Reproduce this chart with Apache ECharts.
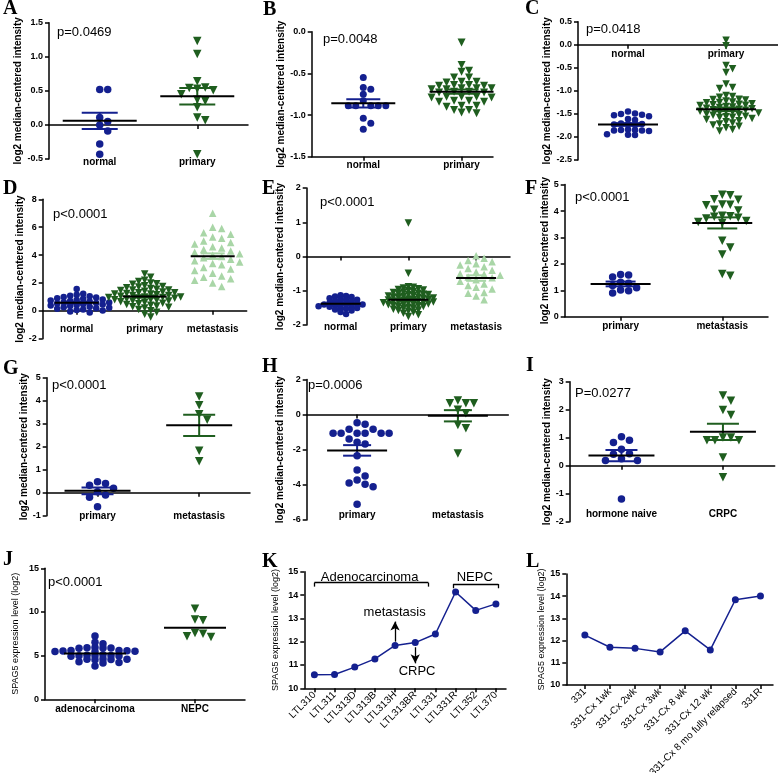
<!DOCTYPE html>
<html lang="en">
<head>
<meta charset="UTF-8">
<title>SPAG5 expression panels</title>
<script src="https://cdn.jsdelivr.net/npm/echarts@6.0.0/dist/echarts.min.js"></script>
<style>
    html, body { margin: 0; padding: 0; background: #fff; }
    #main { width: 778px; height: 773px; }
</style>
</head>
<body>
<div id="main"></div>
<script>
// ---- data ----
var LOG2_NAME = 'log2 median-centered intensity';
var SPAG_NAME = 'SPAG5 expression level (log2)';

// A
var aCats = ['normal', 'primary'];
var aNormal = [0.52, 0.52, 0.11, 0.05, 0.0, -0.09, -0.28, -0.43];
var aPrimary = [1.23, 1.04, 0.64, 0.55, 0.54, 0.53, 0.51, 0.45, 0.37, 0.35, 0.26, 0.11, 0.07, -0.43];
var aMeans = [0.06, 0.42];
var aSems = [0.12, 0.12];

// B
var bCats = ['normal', 'primary'];
var bNormal = [-0.55, -0.67, -0.69, -0.75, -0.83, -0.89, -0.89, -0.89, -0.89, -0.89, -1.04, -1.10, -1.17];
var bPrimary = [-0.13, -0.40, -0.47, -0.48, -0.55, -0.55, -0.60, -0.60, -0.61, -0.64, -0.64, -0.65, -0.65,
    -0.68, -0.68, -0.68, -0.69, -0.69, -0.72, -0.72, -0.73, -0.73, -0.78, -0.78, -0.78, -0.79, -0.79,
    -0.83, -0.83, -0.84, -0.84, -0.89, -0.89, -0.90, -0.94, -0.94, -0.97, -0.98];
var bMeans = [-0.86, -0.72];
var bSems = [0.05, 0.025];

// C
var cCats = ['normal', 'primary'];
var cNormal = [-1.45, -1.49, -1.50, -1.52, -1.53, -1.55, -1.61, -1.63, -1.71, -1.72, -1.72, -1.73, -1.74,
    -1.84, -1.85, -1.85, -1.86, -1.86, -1.87, -1.94, -1.95, -1.96];
var cPrimary = [0.10, -0.02, -0.45, -0.52, -0.60, -0.85, -0.93, -0.95, -1.10, -1.12, -1.14, -1.18, -1.19,
    -1.20, -1.22, -1.24, -1.25, -1.26, -1.28, -1.29, -1.30, -1.31, -1.32, -1.34, -1.35, -1.36, -1.38,
    -1.39, -1.40, -1.41, -1.42, -1.44, -1.45, -1.46, -1.47, -1.48, -1.50, -1.52, -1.53, -1.55, -1.56,
    -1.57, -1.58, -1.60, -1.62, -1.65, -1.67, -1.70, -1.72, -1.74, -1.77, -1.80, -1.84, -1.87];
var cMeans = [-1.73, -1.40];
var cSems = [0.03, 0.04];

// D
var dCats = ['normal', 'primary', 'metastasis'];
var dNormal = [1.56, 1.22, 1.15, 1.08, 1.05, 1.0, 0.95, 0.9, 0.86, 0.82, 0.78, 0.74, 0.7, 0.66, 0.62, 0.6,
    0.56, 0.52, 0.48, 0.45, 0.42, 0.38, 0.34, 0.3, 0.26, 0.22, 0.18, 0.14, 0.1, 0.06, 0.02, -0.04, -0.12];
var dPrimary = [2.65, 2.4, 2.2, 2.1, 2.0, 1.95, 1.9, 1.8, 1.75, 1.7, 1.65, 1.6, 1.55, 1.5, 1.5, 1.45, 1.4,
    1.35, 1.3, 1.3, 1.25, 1.2, 1.2, 1.15, 1.1, 1.1, 1.05, 1.0, 1.0, 0.95, 0.95, 0.9, 0.9, 0.85, 0.8, 0.8,
    0.75, 0.7, 0.7, 0.65, 0.6, 0.55, 0.5, 0.45, 0.4, 0.35, 0.3, 0.25, 0.2, 0.1, 0.0, -0.1, -0.25, -0.45];
var dMetastasis = [7.0, 6.0, 5.9, 5.6, 5.5, 5.3, 5.2, 5.0, 4.9, 4.8, 4.6, 4.5, 4.4, 4.3, 4.2, 4.1, 4.0, 3.9,
    3.8, 3.7, 3.6, 3.5, 3.4, 3.3, 3.1, 3.0, 2.9, 2.7, 2.5, 2.4, 2.3, 2.2, 2.0, 1.75];
var dMeans = [0.58, 1.03, 3.92];
var dSems = [0.07, 0.08, 0.2];

// E
var eCats = ['normal', 'primary', 'metastasis'];
var eNormal = [-1.13, -1.15, -1.17, -1.18, -1.22, -1.25, -1.26, -1.27, -1.3, -1.32, -1.35, -1.37, -1.38,
    -1.39, -1.4, -1.4, -1.42, -1.44, -1.45, -1.47, -1.5, -1.5, -1.52, -1.55, -1.58, -1.62, -1.68];
var ePrimary = [0.98, -0.49, -0.88, -0.9, -0.92, -0.94, -0.96, -0.98, -1.0, -1.02, -1.04, -1.05, -1.07,
    -1.08, -1.1, -1.11, -1.12, -1.14, -1.15, -1.16, -1.18, -1.19, -1.2, -1.21, -1.22, -1.24, -1.25, -1.26,
    -1.27, -1.28, -1.3, -1.31, -1.32, -1.33, -1.34, -1.35, -1.36, -1.38, -1.39, -1.4, -1.41, -1.42, -1.44,
    -1.45, -1.46, -1.48, -1.5, -1.52, -1.54, -1.56, -1.58, -1.6, -1.63, -1.66, -1.7, -1.75];
var eMetastasis = [0.02, -0.05, -0.12, -0.15, -0.21, -0.25, -0.3, -0.35, -0.4, -0.45, -0.5, -0.52, -0.55,
    -0.6, -0.62, -0.68, -0.72, -0.8, -0.85, -0.9, -0.95, -1.05, -1.07, -1.15, -1.26];
var eMeans = [-1.38, -1.26, -0.63];
var eSems = [0.03, 0.03, 0.08];

// F
var fCats = ['primary', 'metastasis'];
var fPrimary = [1.60, 1.58, 1.50, 1.30, 1.27, 1.18, 1.10, 1.01, 0.98, 0.90];
var fMetastasis = [4.62, 4.60, 4.45, 4.43, 4.25, 4.24, 4.22, 4.05, 4.02, 3.82, 3.80, 3.78, 3.75, 3.72,
    3.62, 3.58, 3.55, 2.87, 2.62, 2.35, 1.62, 1.55];
var fMeans = [1.24, 3.55];
var fSems = [0.09, 0.21];

// G
var gCats = ['primary', 'metastasis'];
var gPrimary = [0.48, 0.40, 0.32, 0.19, 0.04, -0.10, -0.20, -0.61];
var gMetastasis = [4.18, 3.80, 3.41, 3.17, 1.82, 1.37];
var gMeans = [0.08, 2.93];
var gSems = [0.15, 0.46];

// H
var hCats = ['primary', 'metastasis'];
var hPrimary = [-0.46, -0.55, -0.84, -0.84, -1.06, -1.06, -1.06, -1.06, -1.06, -1.06, -1.39, -1.58, -1.68,
    -2.34, -3.16, -3.50, -3.73, -3.89, -3.96, -4.11, -5.10];
var hMetastasis = [0.80, 0.65, 0.65, 0.65, 0.27, 0.08, -0.59, -0.78, -2.21];
var hMeans = [-2.04, -0.07];
var hSems = [0.30, 0.32];

// I
var iCats = ['hormone naive', 'CRPC'];
var iNaive = [1.03, 0.91, 0.83, 0.59, 0.43, 0.41, 0.25, 0.19, 0.19, -1.19];
var iCrpc = [2.51, 2.32, 1.99, 1.81, 1.01, 1.01, 0.91, 0.91, 0.91, 0.29, -0.41];
var iMeans = [0.36, 1.21];
var iSems = [0.2, 0.29];

// J
var jCats = ['adenocarcinoma', 'NEPC'];
var jAdeno = [7.25, 6.52, 6.35, 5.92, 5.9, 5.88, 5.86, 5.84, 5.6, 5.58, 5.55, 5.52, 5.5, 5.48, 5.45, 5.1,
    5.05, 5.02, 5.0, 4.98, 4.95, 4.92, 4.62, 4.6, 4.58, 4.55, 4.52, 4.3, 4.22, 4.15, 3.8];
var jNepc = [10.37, 9.15, 9.04, 7.60, 7.52, 7.22, 7.14];
var jMeans = [5.24, 8.2];
var jSems = [0, 0];

// K
var kCats = ['LTL310', 'LTL311', 'LTL313D', 'LTL313B', 'LTL313H', 'LTL313BR', 'LTL331', 'LTL331R', 'LTL352', 'LTL370'];
var kValues = [10.58, 10.59, 10.91, 11.26, 11.84, 11.96, 12.33, 14.13, 13.34, 13.62];

// L
var lCats = ['331', '331-Cx 1wk', '331-Cx 2wk', '331-Cx 3wk', '331-Cx 8 wk', '331-Cx 12 wk', '331-Cx 8 mo fully relapsed', '331R'];
var lValues = [12.25, 11.70, 11.65, 11.49, 12.44, 11.58, 13.84, 14.01];

var pLabels = ['p=0.0469', 'p=0.0048', 'p=0.0418', 'p<0.0001', 'p<0.0001', 'p<0.0001', 'p<0.0001', 'p=0.0006', 'P=0.0277', 'p<0.0001'];
var letters = ['A', 'B', 'C', 'D', 'E', 'F', 'G', 'H', 'I', 'J', 'K', 'L'];

// ---- styling / layout ----
var BLUE = '#14208f', GREEN = '#1f5e1f', LIGHT = '#a9d6a7';
var FONT = "'Liberation Sans', Arial, sans-serif";
var groupColor = [BLUE, GREEN, LIGHT];

// dot plots: grid box, axis ranges, label margin (from grid bottom), name gap, swarm spacing per group
var dotPanels = [
    {cats: aCats, groups: [aNormal, aPrimary], means: aMeans, sems: aSems, left: 49, top: 22.7, width: 199, height: 136.3,
        x: [0.48, 2.52], y: [-0.5, 1.5, 0.5], dec: 1, onZero: true, margin: -1.5, gap: 23, step: [8, 8], thr: [7, 7], size: 7.5, half: [37, 18]},
    {cats: bCats, groups: [bNormal, bPrimary], means: bMeans, sems: bSems, left: 311.7, top: 31.7, width: 181.3, height: 125,
        x: [0.475, 2.32], y: [-1.5, 0, 0.5], dec: 1, onZero: false, margin: 4, gap: 22, step: [7.5, 7.5], thr: [6, 6], size: 7, half: [32, 17]},
    {cats: cCats, groups: [cNormal, cPrimary], means: cMeans, sems: cSems, left: 578, top: 21.7, width: 200, height: 138.3,
        x: [0.49, 2.53], y: [-2.5, 0.5, 0.5], dec: 1, onZero: true, margin: -110.5, gap: 23, step: [7, 6.5], thr: [5, 5], size: 6.5, half: [30, 12]},
    {cats: dCats, groups: [dNormal, dPrimary, dMetastasis], means: dMeans, sems: dSems, left: 42.7, top: 199.3, width: 204, height: 139.4,
        x: [0.5, 3.5], y: [-2, 8, 2], dec: 0, onZero: true, margin: -14.2, gap: 14, step: [6.5, 6, 9], thr: [5, 5, 7], size: 6.5, half: [22, 12]},
    {cats: eCats, groups: [eNormal, ePrimary, eMetastasis], means: eMeans, sems: eSems, left: 306.7, top: 188, width: 203.3, height: 137,
        x: [0.5, 3.5], y: [-2, 2, 1], dec: 0, onZero: true, margin: -2.8, gap: 21.7, step: [5.5, 5, 8], thr: [4, 4, 7], size: 6.5, half: [20, 10]},
    {cats: fCats, groups: [fPrimary, fMetastasis], means: fMeans, sems: fSems, left: 564.7, top: 184.6, width: 203.3, height: 132.1,
        x: [0.45, 2.45], y: [0, 5, 1], dec: 0, onZero: true, margin: 4.5, gap: 10, step: [8, 8], thr: [7, 7], size: 7.5, half: [30, 15]},
    {cats: gCats, groups: [gPrimary, gMetastasis], means: gMeans, sems: gSems, left: 46.7, top: 377.7, width: 203.3, height: 138,
        x: [0.5, 2.5], y: [-1, 5, 1], dec: 0, onZero: true, margin: -4.5, gap: 17.7, step: [8, 8], thr: [7, 7], size: 7.5, half: [33, 16]},
    {cats: hCats, groups: [hPrimary, hMetastasis], means: hMeans, sems: hSems, left: 306.7, top: 379.4, width: 201.6, height: 140.6,
        x: [0.5, 2.5], y: [-6, 2, 2], dec: 0, onZero: true, margin: -9.8, gap: 21.7, step: [8, 8], thr: [7, 7], size: 7.5, half: [30, 14]},
    {cats: iCats, groups: [iNaive, iCrpc], means: iMeans, sems: iSems, left: 569.7, top: 381.7, width: 205, height: 140,
        x: [0.49, 2.51], y: [-2, 3, 1], dec: 0, onZero: true, margin: -12.2, gap: 16.7, step: [8, 8], thr: [7, 7], size: 7.5, half: [33, 16]},
    {cats: jCats, groups: [jAdeno, jNepc], means: jMeans, sems: jSems, left: 45, top: 568.3, width: 200, height: 131,
        x: [0.5, 2.5], y: [0, 15, 5], dec: 0, onZero: true, margin: 4.5, gap: 25, step: [8, 8], thr: [4, 7], size: 7.5, half: [31, 0], spag: true}
];

var linePanels = [
    {cats: kCats, values: kValues, left: 304.3, top: 571.7, width: 201.7, height: 116.6, x: [-0.5, 9.5], gap: 24.3},
    {cats: lCats, values: lValues, left: 566.3, top: 574, width: 206.7, height: 111, x: [-0.74, 7.5], gap: 18.3}
];

// beeswarm layout: spread close values sideways on a grid of columns
function swarm(vals, center, pyu, pxu, step, thr) {
    var placed = [];
    return vals.map(function (v) {
        var py = v * pyu;
        for (var k = 0; k < 80; k++) {
            var col = k === 0 ? 0 : (k % 2 ? (k + 1) / 2 : -k / 2);
            var clash = placed.some(function (p) {
                return p.col === col && Math.abs(p.py - py) < thr;
            });
            if (!clash) {
                placed.push({col: col, py: py});
                return [center + col * step / pxu, v];
            }
        }
        return [center, v];
    });
}

var grids = [], xAxes = [], yAxes = [], series = [];
var axisLineStyle = {color: '#000', width: 1.5};

function yAxisFor(i, box, name, nameBold, dec) {
    return {
        gridIndex: i, type: 'value', min: box[0], max: box[1], interval: box[2],
        axisLine: {show: true, onZero: false, lineStyle: axisLineStyle},
        axisTick: {show: true, length: 4, lineStyle: axisLineStyle},
        axisLabel: {
            color: '#000', fontFamily: FONT, fontWeight: 'bold', fontSize: 9, margin: 6,
            formatter: function (v) { return dec ? v.toFixed(1) : String(v); }
        },
        splitLine: {show: false},
        name: name, nameLocation: 'middle',
        nameTextStyle: {color: '#000', fontFamily: FONT, fontWeight: nameBold ? 'bold' : 'normal', fontSize: nameBold ? 10 : 9}
    };
}

dotPanels.forEach(function (p, i) {
    grids.push({left: p.left, top: p.top, width: p.width, height: p.height, outerBoundsMode: 'none'});
    var ticks = p.cats.map(function (c, j) { return j + 1; });
    xAxes.push({
        gridIndex: i, type: 'value', min: p.x[0], max: p.x[1],
        axisLine: {show: true, onZero: p.onZero, lineStyle: axisLineStyle},
        axisTick: {show: true, length: 4, customValues: ticks, lineStyle: axisLineStyle},
        axisLabel: {
            customValues: ticks, margin: p.margin, color: '#000', fontFamily: FONT, fontWeight: 'bold', fontSize: 10,
            formatter: function (v) { return p.cats[Math.round(v) - 1]; }
        },
        splitLine: {show: false}
    });
    var ya = yAxisFor(i, p.y, p.spag ? SPAG_NAME : LOG2_NAME, !p.spag, p.dec);
    ya.nameGap = p.gap;
    yAxes.push(ya);

    var pyu = p.height / (p.y[1] - p.y[0]);
    var pxu = p.width / (p.x[1] - p.x[0]);
    p.groups.forEach(function (vals, g) {
        series.push({
            type: 'scatter', xAxisIndex: i, yAxisIndex: i,
            symbol: g === 0 ? 'circle' : 'triangle',
            symbolRotate: g === 1 ? 180 : 0,
            symbolSize: g === 0 ? p.size : p.size + 1,
            itemStyle: {color: groupColor[g], opacity: 1},
            data: swarm(vals, g + 1, pyu, pxu, p.step[g], p.thr[g]),
            z: 2
        });
    });
    // mean line + SEM
    var halfMean = p.half[0] / pxu, halfCap = p.half[1] / pxu;
    series.push({
        type: 'custom', xAxisIndex: i, yAxisIndex: i, z: 5,
        data: p.means.map(function (m, g) { return [g + 1, m, p.sems[g]]; }),
        renderItem: function (params, api) {
            var x = api.value(0), m = api.value(1), s = api.value(2);
            var col = groupColor[params.dataIndex];
            var kids = [];
            if (s > 0) {
                var hi = api.coord([x, m + s]), lo = api.coord([x, m - s]);
                var cl = api.coord([x - halfCap, m])[0], cr = api.coord([x + halfCap, m])[0];
                kids.push({type: 'line', shape: {x1: hi[0], y1: hi[1], x2: lo[0], y2: lo[1]}, style: {stroke: col, lineWidth: 2}});
                kids.push({type: 'line', shape: {x1: cl, y1: hi[1], x2: cr, y2: hi[1]}, style: {stroke: col, lineWidth: 2}});
                kids.push({type: 'line', shape: {x1: cl, y1: lo[1], x2: cr, y2: lo[1]}, style: {stroke: col, lineWidth: 2}});
            }
            var l = api.coord([x - halfMean, m]), r = api.coord([x + halfMean, m]);
            kids.push({type: 'line', shape: {x1: l[0], y1: l[1], x2: r[0], y2: r[1]}, style: {stroke: '#000', lineWidth: 2}});
            return {type: 'group', children: kids};
        }
    });
});

linePanels.forEach(function (p, n) {
    var i = dotPanels.length + n;
    grids.push({left: p.left, top: p.top, width: p.width, height: p.height, outerBoundsMode: 'none'});
    var ticks = p.cats.map(function (c, j) { return j; });
    xAxes.push({
        gridIndex: i, type: 'value', min: p.x[0], max: p.x[1],
        axisLine: {show: true, onZero: false, lineStyle: axisLineStyle},
        axisTick: {show: true, length: 4, customValues: ticks, lineStyle: axisLineStyle},
        axisLabel: {
            customValues: ticks, rotate: 45, margin: 5, color: '#000', fontFamily: FONT, fontSize: 10,
            formatter: function (v) { return p.cats[Math.round(v)]; }
        },
        splitLine: {show: false}
    });
    var ya = yAxisFor(i, [10, 15, 1], SPAG_NAME, false, 0);
    ya.nameGap = p.gap;
    yAxes.push(ya);
    var s = {
        type: 'line', xAxisIndex: i, yAxisIndex: i,
        data: p.values.map(function (v, j) { return [j, v]; }),
        symbol: 'circle', symbolSize: 7, showSymbol: true,
        lineStyle: {color: BLUE, width: 1.5}, itemStyle: {color: BLUE}, z: 3
    };
    if (n === 0) {
        var seg = function (a, b, arrow) {
            return [{coord: a, symbol: 'none'}, {coord: b, symbol: arrow ? 'arrow' : 'none', symbolSize: [7, 9]}];
        };
        s.markLine = {
            silent: true, animation: false, label: {show: false},
            lineStyle: {color: '#000', width: 1.3, type: 'solid'},
            data: [
                seg([0, 14.36], [0, 14.53]), seg([0, 14.53], [5.65, 14.53]), seg([5.65, 14.53], [5.65, 14.36]),
                seg([6.88, 14.29], [6.88, 14.47]), seg([6.88, 14.47], [9.12, 14.47]), seg([9.12, 14.47], [9.12, 14.29]),
                seg([4, 12.0], [4, 12.86], true), seg([5, 11.76], [5, 11.07], true)
            ]
        };
        s.markPoint = {
            silent: true, animation: false, symbol: 'circle', symbolSize: 1,
            itemStyle: {color: 'rgba(0,0,0,0)'},
            label: {show: true, position: 'inside', formatter: '{b}', color: '#000', fontFamily: FONT, fontSize: 13},
            data: [
                {name: 'Adenocarcinoma', coord: [2.74, 14.77]},
                {name: 'NEPC', coord: [7.95, 14.77]},
                {name: 'metastasis', coord: [3.98, 13.24]},
                {name: 'CRPC', coord: [5.09, 10.71]}
            ]
        };
    }
    series.push(s);
});

// panel letters and p-values
var letterPos = [[3, 9], [263, 10], [525, 9], [3, 189], [262, 189], [525, 189], [3, 369], [262, 367], [526, 366], [3, 560], [262, 562], [526, 562]];
var pPos = [[57, 32], [323, 39], [586, 29], [53, 214], [320, 202], [575, 197], [52, 385], [308, 385], [575, 393], [48, 582]];
var graphic = [];
letters.forEach(function (t, k) {
    graphic.push({type: 'text', x: letterPos[k][0], y: letterPos[k][1],
        style: {text: t, fill: '#000', font: "bold 20px 'Liberation Serif', 'Times New Roman', serif", verticalAlign: 'middle'}});
});
pLabels.forEach(function (t, k) {
    graphic.push({type: 'text', x: pPos[k][0], y: pPos[k][1],
        style: {text: t, fill: '#000', font: "13px " + FONT, verticalAlign: 'middle'}});
});

var chart = echarts.init(document.getElementById('main'), null, {renderer: 'canvas'});
chart.setOption({
    animation: false,
    backgroundColor: '#fff',
    grid: grids,
    xAxis: xAxes,
    yAxis: yAxes,
    series: series,
    graphic: graphic
});
</script>
</body>
</html>
